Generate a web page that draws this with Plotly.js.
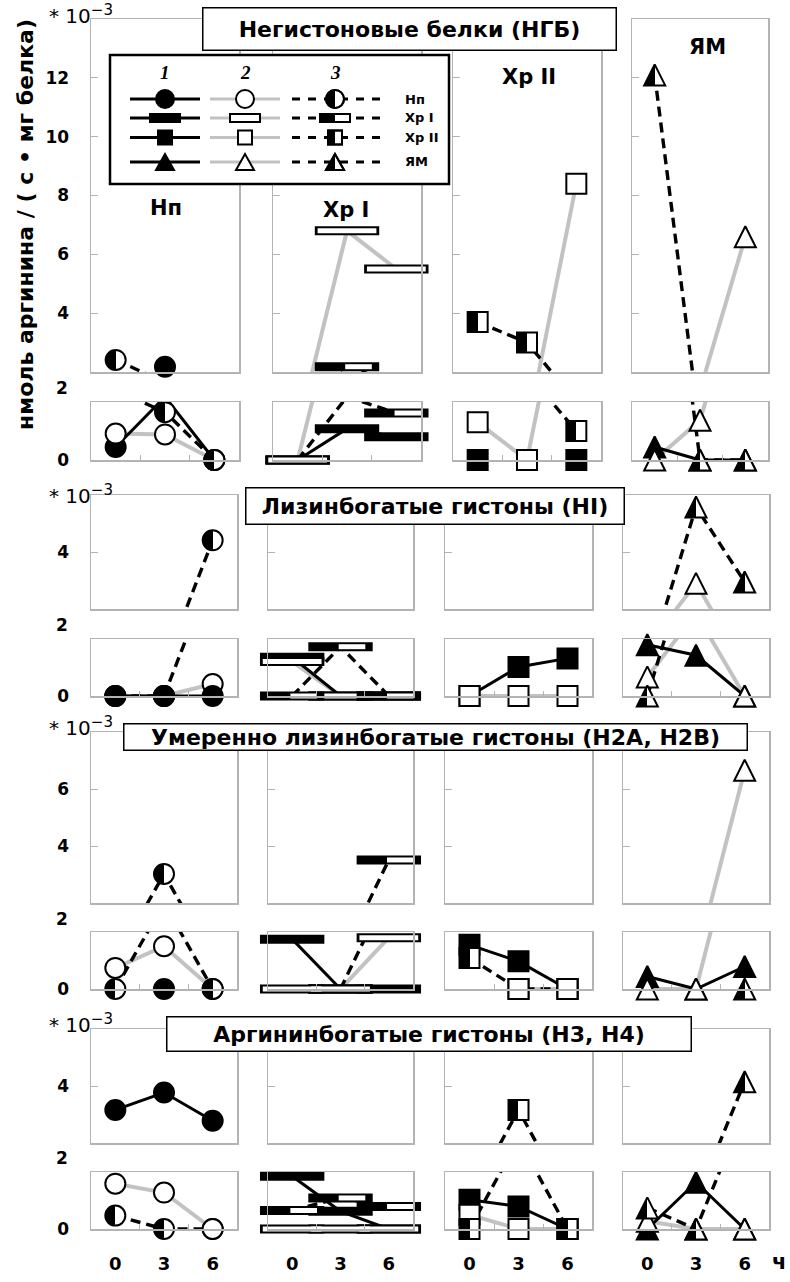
<!DOCTYPE html>
<html><head><meta charset="utf-8">
<script src="https://cdn.plot.ly/plotly-3.0.1.min.js"></script>
<style>html,body{margin:0;padding:0;background:#fff;}#chart{width:790px;height:1282px;}</style>
</head><body><div id="chart"></div>
<script>
// ---------------- DATA (values in 10^-3 nmol arginine / (s * mg protein)) ----------------
const hours = [0, 3, 6];
const xTickLabels = ['0', '3', '6'];
const timeUnit = 'ч';
const fractionNames = ['Нп', 'Хр I', 'Хр II', 'ЯМ'];
const seriesNumbers = ['1', '2', '3'];
const sectionTitles = ['Негистоновые белки (НГБ)', 'Лизинбогатые гистоны (HI)',
  'Умеренно лизинбогатые гистоны (H2A, H2B)', 'Аргининбогатые гистоны (H3, H4)'];
const yTitle = 'нмоль аргинина / ( с • мг белка)';
const scaleLabel = '* 10<sup><span style="font-size:15px">−3</span></sup>';
const yTickValues = [[4, 6, 8, 10, 12], [4], [4, 6], [4]];
const gapTickLabel = '2';

// each array: [Нп, Хр I, Хр II, ЯМ] -> values at 0, 3, 6 h
// series 1 (filled marker, solid black), 2 (open marker, grey), 3 (half-filled, dashed)
const ngbFilled = [[0.45, 2.18, 0], [0, 1.08, 0.8], [0, null, 0], [0.45, 0, 0]];
const ngbOpen   = [[0.91, 0.88, 0], [0, 6.8, 5.5], [1.3, 0, 8.4], [0, 1.37, 6.6]];
const ngbHalf   = [[2.41, 1.65, 0], [0, 2.18, 1.62], [3.7, 3.0, 1.0], [12.1, 0, 0]];

const h1Filled = [[0, 0, 0], [1.36, 0, 0], [0, 1.02, 1.32], [1.8, 1.43, 0]];
const h1Open   = [[0, 0, 0.42], [1.21, 0, 0], [0, 0, 0], [0.67, 2.9, 0]];
const h1Half   = [[0, 0, 4.41], [0, 1.73, 0], [null, null, null], [0, 5.58, 2.95]];

const h2Filled = [[null, 0, null], [1.75, 0, 0], [1.55, 0.97, 0], [0.44, 0, 0.79]];
const h2Open   = [[0.74, 1.5, 0], [0, 0, 1.8], [null, 0, 0], [0, 0, 6.66]];
const h2Half   = [[0, 3.02, 0], [null, 0, 3.51], [1.09, 0, 0], [null, null, 0]];

const h34Filled = [[3.16, 3.77, 2.78], [1.85, 0.62, 0], [1.03, 0.79, 0], [0, 1.64, 0]];
const h34Open   = [[1.59, 1.28, 0], [0, 0, 0], [0.5, 0, 0], [0.27, 0, 0]];
const h34Half   = [[0.47, 0, 0], [0.65, 1.09, 0.79], [0, 3.16, 0], [0.74, 0, 4.15]];

const sectionData = [
  [ngbFilled, ngbOpen, ngbHalf],
  [h1Filled, h1Open, h1Half],
  [h2Filled, h2Open, h2Half],
  [h34Filled, h34Open, h34Half]
];

// ---------------- LAYOUT / STYLE ----------------
const W = 790, H = 1282;
const px = v => v / W;
const py = v => 1 - v / H;
const FONT = 'DejaVu Sans, Verdana, sans-serif';
const GRAY = '#c2c2c2', FRAME = '#b3b3b3', HALF_TAG = 'rgb(2, 4, 6)';

const rowsPx = [
  {up: [19, 372], low: [402, 460], top: 14, gapY: 388, scaleY: 15},
  {up: [495, 609], low: [639, 696], top: 6, gapY: 625, scaleY: 494},
  {up: [732, 903], low: [932, 989], top: 8, gapY: 919, scaleY: 726},
  {up: [1029, 1143], low: [1172, 1229], top: 6, gapY: 1158, scaleY: 1023}
];
const colsPx = [
  [[91, 239], [273, 421], [453, 601], [632, 768]],
  [[91, 237], [268, 413], [445, 592], [623, 769]],
  [[91, 237], [268, 413], [445, 592], [623, 769]],
  [[91, 237], [268, 413], [445, 592], [623, 769]]
];
// marker stacking order per panel (0 filled, 1 open, 2 half); default [0,1,2]
const markerOrder = {'0-1': [0, 2, 1], '1-0': [1, 2, 0], '2-1': [0, 2, 1], '2-2': [0, 2, 1], '3-0': [0, 2, 1]};

const lineStyles = [
  {color: '#000', width: 3},
  {color: GRAY, width: 4},
  {color: '#000', width: 3.4, dash: '10px,6px'}
];

function markerLayers(col, variant) {
  if (col === 1) {
    const outer = {symbol: 'line-ew', size: 46, color: '#000', line: {color: '#000', width: 9}};
    if (variant === 0) return [outer];
    if (variant === 1) return [outer, {symbol: 'line-ew', size: 42, color: '#fff', line: {color: '#fff', width: 5}}];
    return [outer, {symbol: 'line-ns', angle: 270, standoff: 11.5, size: 19, color: '#fff', line: {color: '#fff', width: 5}}];
  }
  let base;
  if (col === 0) base = {symbol: 'circle', size: 20};
  else if (col === 2) base = {symbol: 'square', size: 20};
  else base = {symbol: 'arrow-down', angle: 180, standoff: 10.5, size: 21};
  const fill = variant === 0 ? '#000' : (variant === 1 ? '#fff' : HALF_TAG);
  return [Object.assign({}, base, {color: fill, line: {color: '#000', width: 2}})];
}

const traces = [];
const layout = {
  width: W, height: H, margin: {l: 0, r: 0, t: 0, b: 0},
  paper_bgcolor: '#fff', plot_bgcolor: 'rgba(0,0,0,0)', showlegend: false,
  font: {family: FONT, color: '#000'}, hovermode: false,
  annotations: [], shapes: []
};
const tickFont = {family: FONT, size: 17, color: '#000', weight: 'bold'};
const xTickFont = {family: FONT, size: 18, color: '#000', weight: 'bold'};

for (let s = 0; s < 4; s++) {
  for (let c = 0; c < 4; c++) {
    const vals = [sectionData[s][0][c], sectionData[s][1][c], sectionData[s][2][c]];
    const order = markerOrder[s + '-' + c] || [0, 1, 2];
    for (let part = 0; part < 2; part++) {
      const k = s * 8 + c * 2 + part + 1;
      const sx = k === 1 ? '' : String(k);
      const xa = 'x' + sx, ya = 'y' + sx;
      const yPx = part === 0 ? rowsPx[s].up : rowsPx[s].low;
      const xPx = colsPx[s][c];
      const xaxis = {
        domain: [px(xPx[0]), px(xPx[1])], range: [-1.5, 7.5], anchor: ya,
        showline: true, mirror: true, linecolor: FRAME, linewidth: 1.5,
        showgrid: false, zeroline: false, fixedrange: true, ticks: ''
      };
      if (part === 1) {
        Object.assign(xaxis, {
          tickmode: 'array', tickvals: hours, ticktext: xTickLabels,
          showticklabels: s === 3, tickfont: xTickFont, ticklabelstandoff: 18,
          minor: {tickmode: 'array', tickvals: [1.5, 4.5], ticks: 'inside', ticklen: 5, tickcolor: FRAME, tickwidth: 1}
        });
      } else {
        Object.assign(xaxis, {showticklabels: false});
      }
      const yaxis = {
        domain: [py(yPx[1]), py(yPx[0])], anchor: xa,
        range: part === 0 ? [2, rowsPx[s].top] : [0, 2],
        showline: true, mirror: true, linecolor: FRAME, linewidth: 1.5,
        showgrid: false, zeroline: false, fixedrange: true,
        tickmode: 'array', tickvals: part === 0 ? yTickValues[s] : [0],
        ticks: part === 0 ? 'inside' : '', ticklen: 7, tickcolor: FRAME, tickwidth: 1,
        showticklabels: c === 0, tickfont: tickFont, ticklabelstandoff: 17
      };
      layout['xaxis' + sx] = xaxis;
      layout['yaxis' + sx] = yaxis;

      [1, 0, 2].forEach(v => {
        const n = vals[v].filter(d => d !== null).length;
        if (n < 2) return;
        traces.push({type: 'scatter', mode: 'lines', x: hours, y: vals[v], xaxis: xa, yaxis: ya,
          line: lineStyles[v], connectgaps: false, hoverinfo: 'skip'});
      });
      order.forEach(v => {
        if (vals[v].every(d => d === null)) return;
        markerLayers(c, v).forEach(m => {
          traces.push({type: 'scatter', mode: 'markers', x: hours, y: vals[v], xaxis: xa, yaxis: ya,
            marker: m, cliponaxis: false, hoverinfo: 'skip'});
        });
      });
    }
  }
}

// ---------- annotations ----------
const A = layout.annotations;
function ann(o) { A.push(Object.assign({xref: 'paper', yref: 'paper', showarrow: false}, o)); }

const titleBoxes = [[202, 617, 7, 51], [245, 625, 487, 525], [123, 748, 723, 751], [166, 692, 1016, 1052]];
sectionTitles.forEach((t, i) => {
  const b = titleBoxes[i];
  ann({x: px((b[0] + b[1]) / 2), y: py((b[2] + b[3]) / 2), xanchor: 'center', yanchor: 'middle',
    text: '<b>' + t + '</b>', font: {family: FONT, size: 22, color: '#000'},
    bgcolor: '#fff', bordercolor: '#000', borderwidth: 1.5, borderpad: 0,
    width: b[1] - b[0] - 3, height: b[3] - b[2] - 3});
});
rowsPx.forEach(r => {
  ann({x: px(47), y: py(r.scaleY), xanchor: 'left', yanchor: 'middle', text: scaleLabel,
    font: {family: FONT, size: 20, color: '#000'}});
  ann({x: px(70), y: py(r.gapY), xanchor: 'right', yanchor: 'middle', text: gapTickLabel, font: tickFont});
});
const headerPos = [[166, 208], [346, 210], [529, 77], [707, 47]];
fractionNames.forEach((f, i) => {
  ann({x: px(headerPos[i][0]), y: py(headerPos[i][1]), xanchor: 'center', yanchor: 'middle',
    text: '<b>' + f + '</b>', font: {family: FONT, size: 21, color: '#000'}});
});
ann({x: px(26), y: py(225), xanchor: 'center', yanchor: 'middle', textangle: -90,
  text: '<b>' + yTitle + '</b>', font: {family: FONT, size: 22, color: '#000'}});
ann({x: px(779), y: py(1262), xanchor: 'center', yanchor: 'middle',
  text: '<b>' + timeUnit + '</b>', font: {family: FONT, size: 21, color: '#000'}});

// ---------- legend (key drawn with shapes) ----------
const S = layout.shapes;
S.push({type: 'rect', xref: 'paper', yref: 'paper', x0: px(110), x1: px(449), y0: py(55), y1: py(184),
  line: {color: '#000', width: 2.5}, fillcolor: '#fff', layer: 'above'});
const legRows = [99, 118, 137.5, 162];
const legLineX = [[130, 200], [210, 280], [292, 382]];
const legMarkX = [165, 245, 335];
const legLine = [{color: '#000', width: 3}, {color: GRAY, width: 3}, {color: '#000', width: 3, dash: '8px,8px'}];
function P(x, y) { return px(x).toFixed(5) + ',' + py(y).toFixed(5); }
function shp(o) { S.push(Object.assign({xref: 'paper', yref: 'paper', layer: 'above'}, o)); }
function legGlyph(kind, v, cx, cy) {
  const fill = v === 0 ? '#000' : '#fff';
  const ln = {color: '#000', width: 2};
  if (kind === 0) {
    const r = 9;
    shp({type: 'circle', x0: px(cx - r), x1: px(cx + r), y0: py(cy + r), y1: py(cy - r), fillcolor: fill, line: ln});
    if (v === 2) {
      const k = 0.5523 * r;
      shp({type: 'path', path: 'M' + P(cx, cy - r) + 'C' + P(cx - k, cy - r) + ' ' + P(cx - r, cy - k) + ' ' + P(cx - r, cy) +
        'C' + P(cx - r, cy + k) + ' ' + P(cx - k, cy + r) + ' ' + P(cx, cy + r) + 'Z', fillcolor: '#000', line: {width: 0}});
      shp({type: 'circle', x0: px(cx - r), x1: px(cx + r), y0: py(cy + r), y1: py(cy - r), fillcolor: 'rgba(0,0,0,0)', line: ln});
    }
  } else if (kind === 1 || kind === 2) {
    const w = kind === 1 ? 15 : 7, h = kind === 1 ? 4 : 7;
    shp({type: 'rect', x0: px(cx - w), x1: px(cx + w), y0: py(cy + h), y1: py(cy - h), fillcolor: fill, line: ln});
    if (v === 2) {
      shp({type: 'rect', x0: px(cx - w), x1: px(cx), y0: py(cy + h), y1: py(cy - h), fillcolor: '#000', line: {width: 0}});
      shp({type: 'rect', x0: px(cx - w), x1: px(cx + w), y0: py(cy + h), y1: py(cy - h), fillcolor: 'rgba(0,0,0,0)', line: ln});
    }
  } else {
    const w = 9, h = 8;
    const tri = 'M' + P(cx, cy - h) + 'L' + P(cx - w, cy + h) + 'L' + P(cx + w, cy + h) + 'Z';
    shp({type: 'path', path: tri, fillcolor: fill, line: ln});
    if (v === 2) {
      shp({type: 'path', path: 'M' + P(cx, cy - h) + 'L' + P(cx - w, cy + h) + 'L' + P(cx, cy + h) + 'Z', fillcolor: '#000', line: {width: 0}});
      shp({type: 'path', path: tri, fillcolor: 'rgba(0,0,0,0)', line: ln});
    }
  }
}
for (let v = 0; v < 3; v++) {
  legRows.forEach((y, kind) => {
    shp({type: 'line', x0: px(legLineX[v][0]), x1: px(legLineX[v][1]), y0: py(y), y1: py(y), line: legLine[v]});
    legGlyph(kind, v, legMarkX[v], y);
  });
  ann({x: px(legMarkX[v]), y: py(73), xanchor: 'center', yanchor: 'middle',
    text: '<b>' + seriesNumbers[v] + '</b>', font: {family: 'Liberation Serif, Times New Roman, serif', size: 19, color: '#000', style: 'italic'}});
}
fractionNames.forEach((f, i) => {
  ann({x: px(403), y: py(legRows[i]), xanchor: 'left', yanchor: 'middle',
    text: '<b>' + f + '</b>', font: {family: FONT, size: 13, color: '#000'}});
});

const gd = document.getElementById('chart');
Plotly.newPlot(gd, traces, layout, {staticPlot: true, displayModeBar: false}).then(() => {
  const NS = 'http://www.w3.org/2000/svg';
  const svg = gd.querySelector('svg.main-svg');
  let defs = svg.querySelector('defs');
  if (!defs) { defs = document.createElementNS(NS, 'defs'); svg.insertBefore(defs, svg.firstChild); }
  const lg = document.createElementNS(NS, 'linearGradient');
  lg.setAttribute('id', 'halfFill');
  lg.setAttribute('x1', '0'); lg.setAttribute('y1', '0'); lg.setAttribute('x2', '1'); lg.setAttribute('y2', '0');
  [['0.5', '#000'], ['0.5', '#fff']].forEach(([o, col]) => {
    const st = document.createElementNS(NS, 'stop');
    st.setAttribute('offset', o); st.setAttribute('stop-color', col); lg.appendChild(st);
  });
  defs.appendChild(lg);
  gd.querySelectorAll('path.point').forEach(p => {
    if (p.style.fill === HALF_TAG) { p.style.fill = 'url(#halfFill)'; }
  });
});
</script></body></html>
